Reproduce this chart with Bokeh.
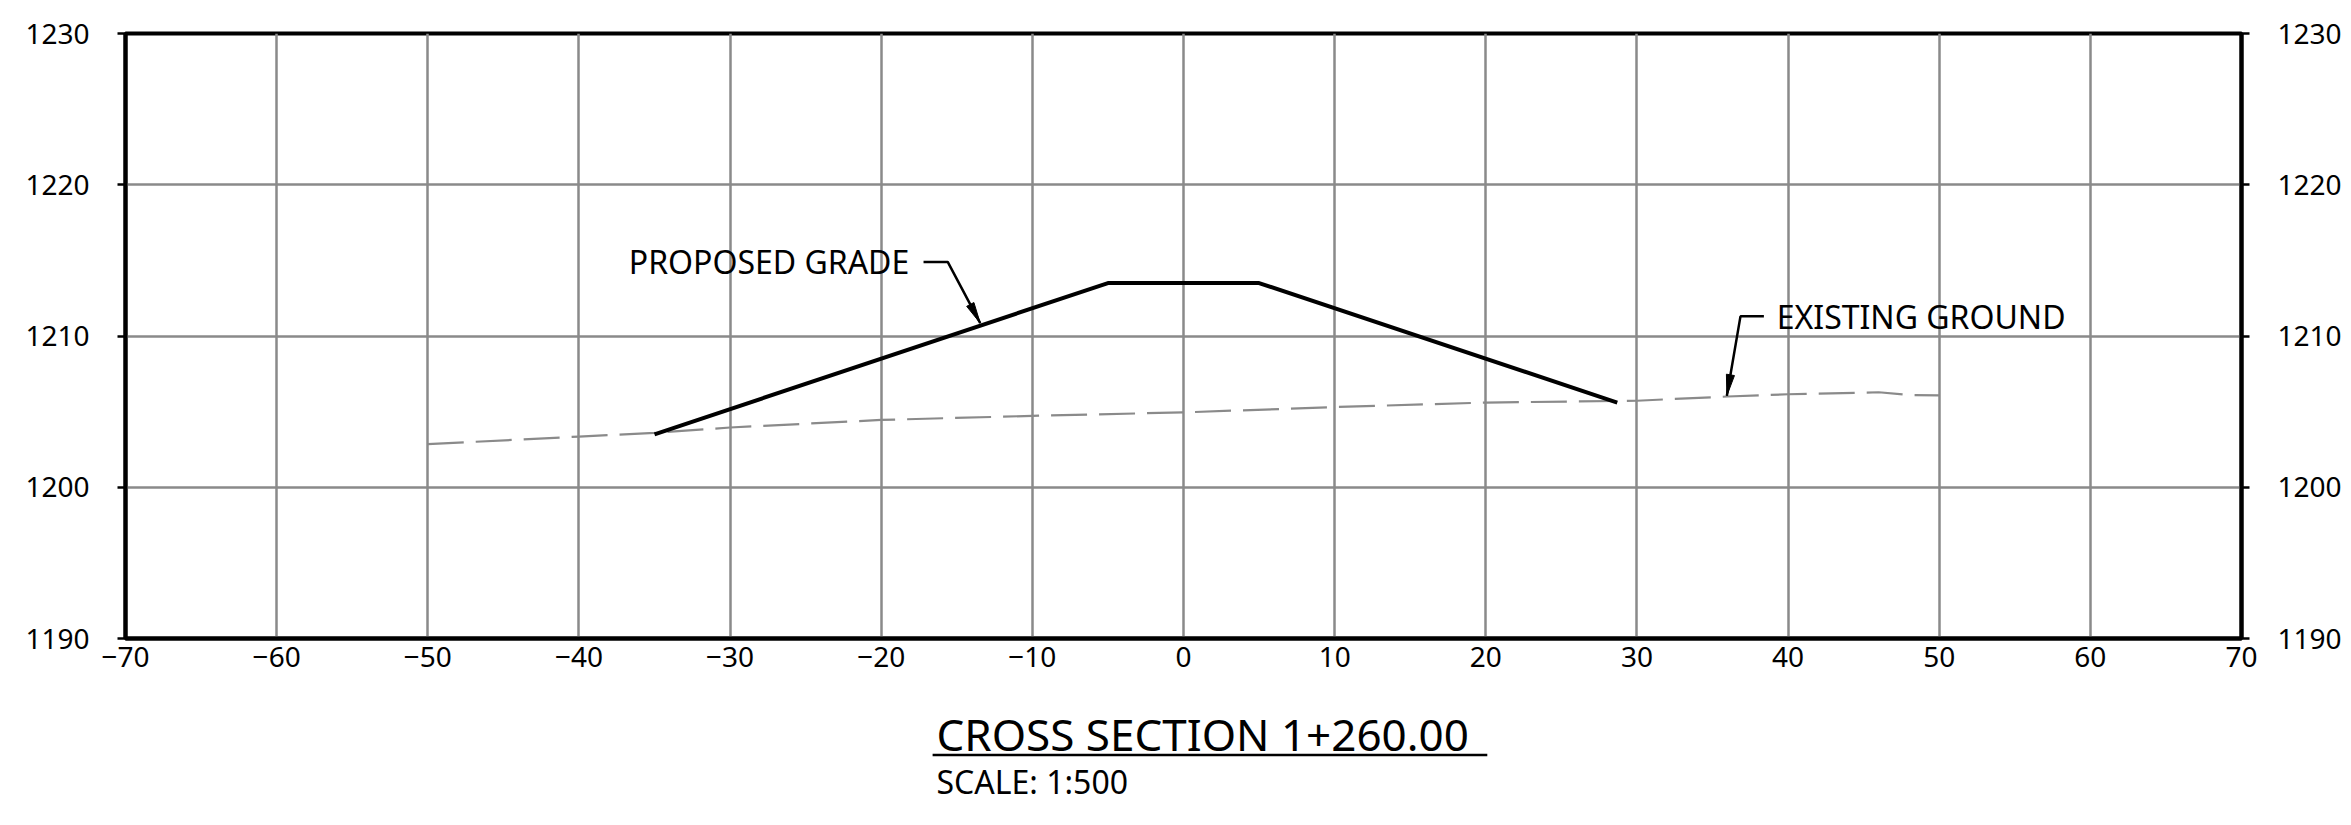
import numpy as np
from bokeh.plotting import figure
from bokeh.layouts import column
from bokeh.models import LinearAxis, SingleIntervalTicker, Label, Range1d
from bokeh.embed import file_html
from bokeh.resources import INLINE

# ---- data ----
x_ticks_interval = 10
y_ticks_interval = 10
x_limits = (-70, 70)
y_limits = (1190, 1230)

grade_x = [-35, -5, 5, 28.7]
grade_y = [1203.5, 1213.5, 1213.5, 1205.6]

ground_x = [-50, -40, -35, -30, -20, -10, 0, 10, 20, 30, 36, 40, 46, 48, 50]
ground_y = [1202.85, 1203.35, 1203.6, 1203.95, 1204.45, 1204.72, 1204.95, 1205.3,
            1205.6, 1205.72, 1206.0, 1206.15, 1206.28, 1206.1, 1206.07]

label_grade = "PROPOSED GRADE"
label_ground = "EXISTING GROUND"
title_text = "CROSS SECTION 1+260.00"
scale_text = "SCALE: 1:500"

# leader lines (annotation layout)
grade_leader_x = [-17.2, -15.6, -13.45]
grade_leader_y = [1214.9, 1214.9, 1210.85]
ground_leader_x = [38.4, 36.85, 35.95]
ground_leader_y = [1211.3, 1211.3, 1206.05]

FONT = "Noto Sans"
GRID = "#8a8a8a"
ML, MR = 125, 110
FW = 2116

p = figure(frame_width=FW, frame_height=605,
           min_border_left=ML, min_border_right=MR,
           min_border_top=33, min_border_bottom=62,
           x_range=Range1d(*x_limits), y_range=Range1d(*y_limits),
           output_backend="svg", toolbar_location=None,
           x_axis_location=None, y_axis_location=None)
p.background_fill_color = "white"
p.border_fill_color = "white"
p.outline_line_color = "black"
p.outline_line_width = 4

xt = SingleIntervalTicker(interval=x_ticks_interval)
yt = SingleIntervalTicker(interval=y_ticks_interval)

xaxis = LinearAxis(ticker=xt)
xaxis.axis_line_width = 4
xaxis.major_tick_out = 0
xaxis.major_tick_in = 0
xaxis.minor_tick_out = 0
xaxis.minor_tick_in = 0
xaxis.major_label_standoff = 8
xaxis.major_label_text_font = FONT
xaxis.major_label_text_font_size = "28px"
xaxis.major_label_text_color = "black"
p.add_layout(xaxis, "below")

for side in ("left", "right"):
    ax = LinearAxis(ticker=yt)
    ax.axis_line_width = 4
    ax.major_tick_out = 8
    ax.major_tick_in = 0
    ax.major_tick_line_width = 2.5
    ax.minor_tick_out = 0
    ax.minor_tick_in = 0
    ax.major_label_standoff = 28
    ax.major_label_text_font = FONT
    ax.major_label_text_font_size = "28px"
    ax.major_label_text_color = "black"
    p.add_layout(ax, side)

p.xgrid.ticker = xt
p.ygrid.ticker = yt
for g in (p.xgrid, p.ygrid):
    g.grid_line_color = GRID
    g.grid_line_width = 2.5

# existing ground
p.line(ground_x, ground_y, line_color=GRID, line_width=2.2, line_dash="36 12")
# proposed grade
p.line(grade_x, grade_y, line_color="black", line_width=4)

# leaders + narrow arrowheads
def head(xs, ys, L=1.4, w=0.27):
    tx, ty = xs[-1], ys[-1]
    px, py = xs[-2], ys[-2]
    d = np.array([tx - px, ty - py]); d = d / np.hypot(*d)
    n = np.array([-d[1], d[0]])
    b = np.array([tx, ty]) - d * L
    c1 = b + n * w; c2 = b - n * w
    return [tx, c1[0], c2[0]], [ty, c1[1], c2[1]]

for lx, ly in ((grade_leader_x, grade_leader_y), (ground_leader_x, ground_leader_y)):
    p.line(lx, ly, line_color="black", line_width=2.5)
    hx, hy = head(lx, ly)
    p.patch(hx, hy, fill_color="black", line_color="black", line_width=1)

p.add_layout(Label(x=-36.7, y=1214.91, text=label_grade, text_font=FONT,
                   text_font_size="32px", text_color="black",
                   text_baseline="middle", text_align="left"))
p.add_layout(Label(x=39.25, y=1211.29, text=label_ground, text_font=FONT,
                   text_font_size="32px", text_color="black",
                   text_baseline="middle", text_align="left"))

# ---- title block: strip below sharing the x scale; y in pixels from strip top ----
H2 = 122
p2 = figure(frame_width=FW, frame_height=H2,
            min_border_left=ML, min_border_right=MR,
            min_border_top=0, min_border_bottom=0,
            x_range=p.x_range, y_range=Range1d(H2, 0),
            output_backend="svg", toolbar_location=None,
            x_axis_location=None, y_axis_location=None)
p2.outline_line_color = None
p2.grid.visible = False
p2.background_fill_color = "white"
p2.border_fill_color = "white"

p2.add_layout(Label(x=-16.34, y=33.3, text=title_text, text_font=FONT,
                    text_font_size="44px", text_color="black",
                    text_baseline="middle", text_align="left"))
p2.line([-16.6, 20.1], [54.5, 54.5], line_color="black", line_width=2.5)
p2.add_layout(Label(x=-16.34, y=80.5, text=scale_text, text_font=FONT,
                    text_font_size="32px", text_color="black",
                    text_baseline="middle", text_align="left"))

layout = column(p, p2, spacing=0)
open("out.html", "w").write(file_html(layout, INLINE))
